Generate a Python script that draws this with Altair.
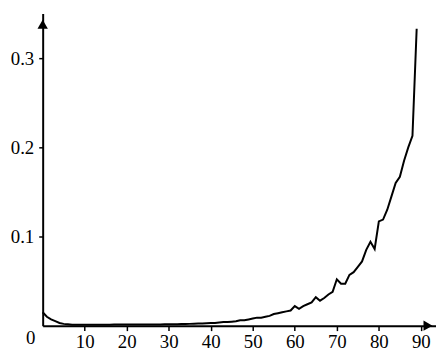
import altair as alt
import pandas as pd

ages = list(range(0, 90))
rates = [
    0.015, 0.010, 0.007, 0.005, 0.003, 0.002, 0.0015, 0.001, 0.001, 0.001,
    0.001, 0.001, 0.001, 0.001, 0.001, 0.001, 0.0011, 0.0012, 0.0012, 0.0012,
    0.0012, 0.0012, 0.0012, 0.0012, 0.0013, 0.0013, 0.0013, 0.0014, 0.0014, 0.0015,
    0.0015, 0.0016, 0.0017, 0.0018, 0.0019, 0.002, 0.0021, 0.0023, 0.0025, 0.0027,
    0.003, 0.003, 0.0035, 0.004, 0.004, 0.0045, 0.005, 0.006, 0.006, 0.007,
    0.008, 0.009, 0.009, 0.010, 0.011, 0.013, 0.014, 0.015, 0.016, 0.017,
    0.022, 0.019, 0.022, 0.024, 0.026, 0.032, 0.028, 0.031, 0.035, 0.038,
    0.052, 0.047, 0.047, 0.057, 0.060, 0.066, 0.072, 0.085, 0.094, 0.086,
    0.117, 0.119, 0.130, 0.145, 0.160, 0.167, 0.185, 0.200, 0.213, 0.333,
]
x_ticks = [10, 20, 30, 40, 50, 60, 70, 80, 90]
y_ticks = [0.1, 0.2, 0.3]

df = pd.DataFrame({"age": ages, "rate": rates})

FONT = "Liberation Serif"
FS = 19
XMAX = 93.6
YMAX = 0.35

xs = alt.Scale(domain=[0, XMAX], nice=False, zero=True)
ys = alt.Scale(domain=[0, YMAX], nice=False, zero=True)

line = alt.Chart(df).mark_line(color="black", strokeWidth=2).encode(
    x=alt.X("age:Q", scale=xs, axis=alt.Axis(
        values=x_ticks, title=None, grid=False, domainColor="black", domainWidth=2,
        tickColor="black", tickWidth=1.5, tickSize=5, labelFont=FONT, labelFontSize=FS,
        labelColor="black", labelPadding=2)),
    y=alt.Y("rate:Q", scale=ys, axis=alt.Axis(
        values=y_ticks, title=None, grid=False, domainColor="black", domainWidth=2,
        tickColor="black", tickWidth=1.5, tickSize=4, labelFont=FONT, labelFontSize=FS,
        labelColor="black", labelPadding=5, format=".1f")),
)

zero = alt.Chart(pd.DataFrame({"t": ["0"]})).mark_text(
    font=FONT, fontSize=FS, color="black", dx=-12, dy=13, baseline="middle"
).encode(x=alt.datum(0, scale=xs), y=alt.datum(0, scale=ys), text="t:N")

yarrow = alt.Chart(pd.DataFrame({"k": [1]})).mark_point(
    shape="triangle-up", filled=True, color="black", size=110, opacity=1
).encode(x=alt.datum(0, scale=xs), y=alt.datum(0.338, scale=ys))

xarrow = alt.Chart(pd.DataFrame({"k": [1]})).mark_point(
    shape="triangle-right", filled=True, color="black", size=110, opacity=1
).encode(x=alt.datum(91.7, scale=xs), y=alt.datum(0, scale=ys))

chart = alt.layer(line, zero, yarrow, xarrow).properties(
    width=397, height=315,
    autosize=alt.AutoSizeParams(type="none"),
    padding={"left": 35, "top": 4, "right": 0, "bottom": 30},
).configure(background="white").configure_view(stroke=None)

chart.save("out.html", embed_options={"renderer": "svg", "actions": False})
